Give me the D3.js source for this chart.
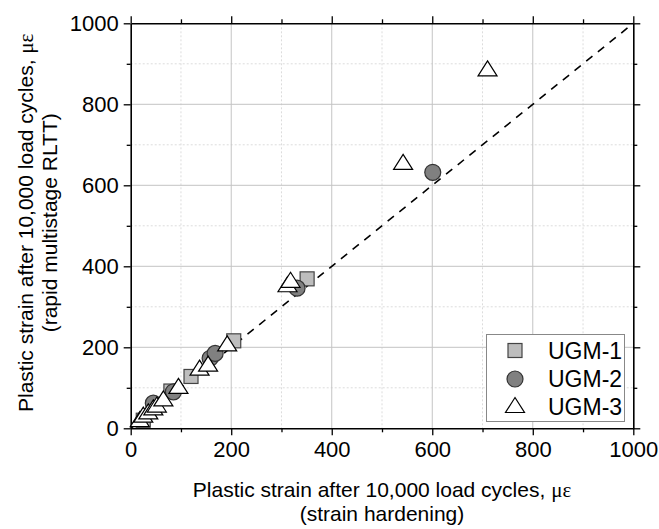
<!DOCTYPE html>
<html><head><meta charset="utf-8">
<script src="https://cdn.jsdelivr.net/npm/d3@7"></script>
<style>body{margin:0;background:#fff}svg{display:block}</style>
</head><body>
<script>
const ugm1X = [25, 80, 120, 205, 351];
const ugm1Y = [20, 92, 128, 216, 369];
const ugm2X = [45, 85, 158, 168, 331, 601];
const ugm2Y = [62, 90, 173, 185, 346, 632];
const ugm3X = [18, 25, 35, 45, 52, 65, 95, 137, 154, 192, 312, 318, 542, 710];
const ugm3Y = [19, 30, 38, 48, 55, 70, 101, 146, 156, 206, 352, 363, 654, 885];
const majorTicks = [0, 200, 400, 600, 800, 1000];
const minorTicks = [100, 300, 500, 700, 900];
const legendLabels = ["UGM-1", "UGM-2", "UGM-3"];
const xTitle = ["Plastic strain after 10,000 load cycles, ", "(strain hardening)"];
const yTitle = ["Plastic strain after 10,000 load cycles, ", "(rapid multistage RLTT)"];
const muEps = "\u03bc\u03b5";

const W = 659, H = 529;
const L = 130.7, R = 633.3, T = 23.3, B = 428.3;
const svg = d3.select("body").append("svg").attr("width", W).attr("height", H)
  .style("font-family", "'Liberation Sans', Arial, sans-serif");
const x = d3.scaleLinear().domain([0, 1000]).range([L, R]);
const y = d3.scaleLinear().domain([0, 1000]).range([B, T]);
const fmt = d3.format("d");

const grid = svg.append("g");
minorTicks.forEach(v => {
  grid.append("line").attr("x1", x(v)).attr("x2", x(v)).attr("y1", T).attr("y2", B)
    .attr("stroke", "#dcdcdc").attr("stroke-dasharray", "2,2");
  grid.append("line").attr("y1", y(v)).attr("y2", y(v)).attr("x1", L).attr("x2", R)
    .attr("stroke", "#dcdcdc").attr("stroke-dasharray", "2,2");
});
majorTicks.slice(1, -1).forEach(v => {
  grid.append("line").attr("x1", x(v)).attr("x2", x(v)).attr("y1", T).attr("y2", B)
    .attr("stroke", "#c4c4c4");
  grid.append("line").attr("y1", y(v)).attr("y2", y(v)).attr("x1", L).attr("x2", R)
    .attr("stroke", "#c4c4c4");
});

// diagonal 1:1 line
svg.append("line").attr("x1", x(0)).attr("y1", y(0)).attr("x2", x(1000)).attr("y2", y(1000))
  .attr("stroke", "#000").attr("stroke-width", 1.6).attr("stroke-dasharray", "8,7");

// axes
function styleAxis(g) {
  g.selectAll("path").attr("stroke", "#000").attr("stroke-width", 1.6);
  g.selectAll("line").attr("stroke", "#000").attr("stroke-width", 1.3);
}
const fs = 21, tfs = 22;
const axB = svg.append("g").attr("transform", `translate(0,${B})`)
  .call(d3.axisBottom(x).tickValues(majorTicks).tickFormat(fmt).tickSize(7).tickSizeOuter(0).tickPadding(6));
axB.selectAll("text").style("font-size", tfs + "px").attr("fill", "#000");
styleAxis(axB);
const axBm = svg.append("g").attr("transform", `translate(0,${B})`)
  .call(d3.axisBottom(x).tickValues(minorTicks).tickSize(4).tickFormat(""));
axBm.select("path").remove(); styleAxis(axBm);
const axT = svg.append("g").attr("transform", `translate(0,${T})`)
  .call(d3.axisTop(x).tickValues(majorTicks).tickSize(7).tickSizeOuter(0).tickFormat(""));
styleAxis(axT);
const axTm = svg.append("g").attr("transform", `translate(0,${T})`)
  .call(d3.axisTop(x).tickValues(minorTicks).tickSize(4).tickFormat(""));
axTm.select("path").remove(); styleAxis(axTm);
const axL = svg.append("g").attr("transform", `translate(${L},0)`)
  .call(d3.axisLeft(y).tickValues(majorTicks).tickFormat(fmt).tickSize(7).tickSizeOuter(0).tickPadding(5));
axL.selectAll("text").style("font-size", tfs + "px").attr("fill", "#000");
styleAxis(axL);
const axLm = svg.append("g").attr("transform", `translate(${L},0)`)
  .call(d3.axisLeft(y).tickValues(minorTicks).tickSize(4).tickFormat(""));
axLm.select("path").remove(); styleAxis(axLm);
const axR = svg.append("g").attr("transform", `translate(${R},0)`)
  .call(d3.axisRight(y).tickValues(majorTicks).tickSize(7).tickSizeOuter(0).tickFormat(""));
styleAxis(axR);
const axRm = svg.append("g").attr("transform", `translate(${R},0)`)
  .call(d3.axisRight(y).tickValues(minorTicks).tickSize(4).tickFormat(""));
axRm.select("path").remove(); styleAxis(axRm);

// markers
const sq = 14, cr = 8, triW = 19, triH = 15;
const triPath = `M0,${-triH*0.6}L${triW/2},${triH*0.4}L${-triW/2},${triH*0.4}Z`;
const pts = svg.append("g");
pts.selectAll("rect.u1").data(ugm1X.map((v, i) => [v, ugm1Y[i]])).join("rect")
  .attr("x", d => x(d[0]) - sq/2).attr("y", d => y(d[1]) - sq/2)
  .attr("width", sq).attr("height", sq)
  .attr("fill", "#bdbdbd").attr("stroke", "#444").attr("stroke-width", 1.2);
pts.selectAll("circle.u2").data(ugm2X.map((v, i) => [v, ugm2Y[i]])).join("circle")
  .attr("cx", d => x(d[0])).attr("cy", d => y(d[1])).attr("r", cr)
  .attr("fill", "#808080").attr("stroke", "#333").attr("stroke-width", 1.2);
pts.selectAll("path.u3").data(ugm3X.map((v, i) => [v, ugm3Y[i]])).join("path")
  .attr("transform", d => `translate(${x(d[0])},${y(d[1])})`)
  .attr("d", triPath)
  .attr("fill", "#fff").attr("stroke", "#000").attr("stroke-width", 1.2);

// legend
const lg = svg.append("g");
lg.append("rect").attr("x", 486.5).attr("y", 334.5).attr("width", 138).attr("height", 87)
  .attr("fill", "#fff").attr("stroke", "#888").attr("stroke-width", 1);
const rows = [350.5, 379, 406.5];
const sx = 515;
lg.append("rect").attr("x", sx - sq/2).attr("y", rows[0] - sq/2).attr("width", sq).attr("height", sq)
  .attr("fill", "#bdbdbd").attr("stroke", "#444").attr("stroke-width", 1.2);
lg.append("circle").attr("cx", sx).attr("cy", rows[1]).attr("r", cr)
  .attr("fill", "#808080").attr("stroke", "#333").attr("stroke-width", 1.2);
lg.append("path").attr("transform", `translate(${sx},${rows[2]})`).attr("d", triPath)
  .attr("fill", "#fff").attr("stroke", "#000").attr("stroke-width", 1.2);
legendLabels.forEach((t, i) => {
  lg.append("text").attr("x", 548).attr("y", rows[i]).attr("dy", "0.36em")
    .style("font-size", "23px").attr("fill", "#000").text(t);
});

// axis titles
const xt = svg.append("text").attr("x", (L + R) / 2).attr("y", 497).attr("text-anchor", "middle")
  .style("font-size", fs + "px").attr("fill", "#000");
xt.append("tspan").text(xTitle[0]);
xt.append("tspan").style("font-family", "'Liberation Serif', 'Times New Roman', serif").text(muEps);
svg.append("text").attr("x", (L + R) / 2).attr("y", 521).attr("text-anchor", "middle")
  .style("font-size", fs + "px").attr("fill", "#000").text(xTitle[1]);

const cy = (T + B) / 2 - 3;
const yt = svg.append("text").attr("transform", `translate(33,${cy}) rotate(-90)`)
  .attr("text-anchor", "middle").style("font-size", fs + "px").attr("fill", "#000");
yt.append("tspan").text(yTitle[0]);
yt.append("tspan").style("font-family", "'Liberation Serif', 'Times New Roman', serif").text(muEps);
svg.append("text").attr("transform", `translate(57,${cy}) rotate(-90)`)
  .attr("text-anchor", "middle").style("font-size", fs + "px").attr("fill", "#000").text(yTitle[1]);
</script>
</body></html>
